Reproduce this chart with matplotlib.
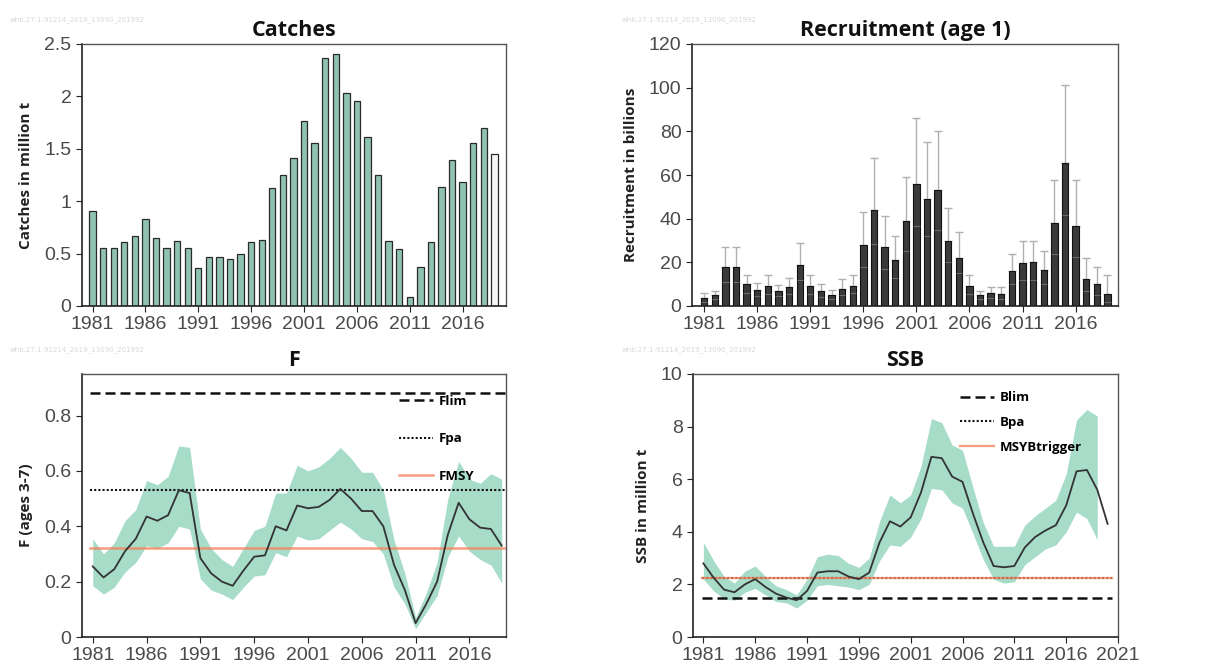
import matplotlib
matplotlib.use("Agg")
import matplotlib.pyplot as plt
from matplotlib import font_manager
import numpy as np

years = list(range(1981, 2020))
ssb_years = list(range(1981, 2021))
band_years = list(range(1981, 2020))

catches = [0.91, 0.55, 0.55, 0.61, 0.67, 0.83, 0.65, 0.55, 0.62, 0.55,
           0.36, 0.47, 0.47, 0.45, 0.50, 0.61, 0.63, 1.13, 1.25, 1.41,
           1.77, 1.56, 2.37, 2.40, 2.03, 1.96, 1.61, 1.25, 0.62, 0.54,
           0.09, 0.37, 0.61, 1.14, 1.39, 1.18, 1.56, 1.70, 1.45]

recruit = [3.5, 5, 18, 18, 10, 7.5, 9, 7, 8.5, 19,
           9, 7, 5, 8, 9, 28, 44, 27, 21, 39,
           56, 49, 53, 30, 22, 9, 5, 6, 5.5, 16,
           19.5, 20, 16.5, 38, 65.5, 36.5, 12.5, 10, 5.5]
recruit_hi = [6, 7, 27, 27, 14, 10.5, 14, 9.5, 13, 29,
              14, 10, 7.5, 12.5, 14, 43, 68, 41, 32, 59,
              86, 75, 80, 45, 34, 14, 7, 8.5, 8.5, 24,
              30, 30, 25, 57.5, 101, 57.5, 22, 18, 14]
recruit_lo = [2, 3, 11, 11, 6, 4.5, 5.5, 4.5, 5.5, 12,
              5.5, 4, 3, 5, 6, 18, 28.5, 17, 13, 25,
              36.5, 32, 35, 20, 15, 5.5, 3, 3.5, 3, 10,
              12, 12, 10, 24, 41.5, 22.5, 7, 5, 2]

F = [0.255, 0.215, 0.245, 0.31, 0.355, 0.435, 0.42, 0.44, 0.53, 0.52,
     0.285, 0.23, 0.20, 0.185, 0.24, 0.29, 0.295, 0.40, 0.385, 0.475,
     0.465, 0.47, 0.495, 0.535, 0.50, 0.455, 0.455, 0.40, 0.26, 0.17,
     0.05, 0.12, 0.20, 0.37, 0.485, 0.425, 0.395, 0.39, 0.33]
F_hi = [0.355, 0.30, 0.34, 0.42, 0.46, 0.565, 0.55, 0.58, 0.69, 0.685,
        0.39, 0.32, 0.28, 0.255, 0.32, 0.385, 0.40, 0.52, 0.52, 0.62,
        0.60, 0.615, 0.645, 0.685, 0.645, 0.595, 0.595, 0.53, 0.35, 0.23,
        0.07, 0.16, 0.27, 0.50, 0.635, 0.57, 0.555, 0.59, 0.57]
F_lo = [0.185, 0.155, 0.18, 0.235, 0.27, 0.33, 0.32, 0.34, 0.40, 0.39,
        0.21, 0.17, 0.155, 0.135, 0.18, 0.22, 0.225, 0.305, 0.29, 0.365,
        0.35, 0.355, 0.385, 0.415, 0.39, 0.355, 0.345, 0.30, 0.18, 0.12,
        0.03, 0.09, 0.15, 0.29, 0.365, 0.31, 0.28, 0.26, 0.195]

ssb = [2.8, 2.25, 1.8, 1.7, 2.0, 2.2, 1.9, 1.65, 1.5, 1.4,
       1.75, 2.45, 2.5, 2.5, 2.3, 2.2, 2.45, 3.6, 4.4, 4.2,
       4.55, 5.5, 6.85, 6.8, 6.1, 5.9, 4.7, 3.6, 2.7, 2.65,
       2.7, 3.4, 3.8, 4.05, 4.25, 5.0, 6.3, 6.35, 5.6, 4.3]
ssb_hi = [3.6, 2.9, 2.3, 2.05, 2.5, 2.7, 2.3, 1.95, 1.8, 1.6,
          2.2, 3.05, 3.15, 3.1, 2.8, 2.65, 3.0, 4.4, 5.4, 5.1,
          5.4, 6.5, 8.3, 8.15, 7.3, 7.1, 5.7, 4.35, 3.45, 3.45,
          3.45, 4.25, 4.6, 4.9, 5.2, 6.2, 8.25, 8.65, 8.4]
ssb_lo = [2.2, 1.75, 1.45, 1.4, 1.7, 1.85, 1.6, 1.35, 1.3, 1.1,
          1.4, 1.95, 2.0, 1.95, 1.9, 1.8, 2.0, 2.9, 3.5, 3.45,
          3.8, 4.5, 5.65, 5.6, 5.1, 4.9, 3.95, 2.95, 2.2, 2.05,
          2.1, 2.75, 3.05, 3.35, 3.5, 4.0, 4.75, 4.5, 3.7]

Flim, Fpa, Fmsy = 0.88, 0.53, 0.32
Blim, Bpa, MSYBtrigger = 1.5, 2.25, 2.25

xtick_years = [1981, 1986, 1991, 1996, 2001, 2006, 2011, 2016]
ssb_xticks = [1981, 1986, 1991, 1996, 2001, 2006, 2011, 2016, 2021]

available = {f.name for f in font_manager.fontManager.ttflist}
TICKFONT = [f for f in ['Liberation Sans Narrow', 'DejaVu Sans Condensed', 'Liberation Sans']
            if f in available] + ['DejaVu Sans']
BOLDFONT = ['Open Sans', 'DejaVu Sans']
TICKCOL = '#4a4a4a'
GREEN = '#8fc3b0'
BAND = '#a6dcc8'
ORANGE = '#f4845f'
WM = 'whb.27.1-91214_2019_13090_201992'

W, H = 1215, 666
fig = plt.figure(figsize=(W / 100, H / 100), dpi=100)


def ax_at(l, t, r, b):
    return fig.add_axes([l / W, 1 - b / H, (r - l) / W, (b - t) / H])


def style(ax, title, ylabel, xt):
    for s in ['left', 'bottom']:
        ax.spines[s].set_color('#222222')
        ax.spines[s].set_linewidth(1.2)
    for s in ['top', 'right']:
        ax.spines[s].set_color('#555555')
        ax.spines[s].set_linewidth(1.0)
    ax.set_xticks(xt)
    ax.set_xticklabels([str(y) for y in xt])
    ax.tick_params(axis='both', direction='out', length=4, width=0.8,
                   colors='#222222', labelcolor=TICKCOL, labelsize=14)
    for lab in ax.get_xticklabels() + ax.get_yticklabels():
        lab.set_family(TICKFONT)
    ax.set_ylabel(ylabel, family=BOLDFONT, fontweight='bold', fontsize=11,
                  color='#222222', labelpad=8)
    ax.set_title(title, family=BOLDFONT, fontweight='bold', fontsize=15.5,
                 color='#111111', pad=6)


# Catches
ax1 = ax_at(82, 44, 506, 306)
cols = [GREEN] * (len(years) - 1) + ['#f4f7f6']
ax1.bar(years, catches, width=0.6, color=cols, edgecolor='#2a2a2a', linewidth=0.9)
ax1.set_xlim(1980, 2020.1)
ax1.set_ylim(0, 2.5)
ax1.set_yticks([0, 0.5, 1, 1.5, 2, 2.5])
ax1.set_yticklabels(['0', '0.5', '1', '1.5', '2', '2.5'])
style(ax1, 'Catches', 'Catches in million t', xtick_years)

# Recruitment
ax2 = ax_at(692, 44, 1118, 306)
rv = np.array(recruit)
ax2.errorbar(years, rv, yerr=[np.zeros_like(rv), np.array(recruit_hi) - rv],
             fmt='none', ecolor='#b0b0b0', elinewidth=1.0, capsize=3, capthick=1.0, zorder=1)
ax2.bar(years, recruit, width=0.6, color='#3a3a3a', edgecolor='#111111', linewidth=0.8, zorder=2)
ax2.hlines(recruit_lo, np.array(years) - 0.3, np.array(years) + 0.3,
           color='#6a6a6a', linewidth=0.8, zorder=3)
ax2.set_xlim(1979.85, 2020)
ax2.set_ylim(0, 120)
ax2.set_yticks(range(0, 121, 20))
style(ax2, 'Recruitment (age 1)', 'Recruitment in billions', xtick_years)

# F
ax3 = ax_at(82, 374, 506, 637)
ax3.fill_between(years, F_lo, F_hi, color=BAND, linewidth=0, zorder=1)
ax3.plot(years, F, color='#333333', linewidth=1.3, zorder=3)
ax3.axhline(Flim, xmin=0.02, xmax=1, color='#111111', linestyle=(0, (4, 2)), linewidth=1.8, zorder=2, label='Flim')
ax3.axhline(Fpa, xmin=0.02, xmax=1, color='#111111', linestyle=(0, (1, 1)), linewidth=1.5, zorder=2, label='Fpa')
ax3.axhline(Fmsy, xmin=0.02, xmax=1, color=ORANGE, linewidth=1.8, alpha=0.8, zorder=2, label='FMSY')
ax3.set_xlim(1980, 2019.4)
ax3.set_ylim(0, 0.95)
ax3.set_yticks([0, 0.2, 0.4, 0.6, 0.8])
ax3.set_yticklabels(['0', '0.2', '0.4', '0.6', '0.8'])
style(ax3, 'F', 'F (ages 3-7)', xtick_years)
ax3.legend(loc='upper left', bbox_to_anchor=(0.72, 0.965), frameon=False,
           handlelength=2.6, labelspacing=1.85, handletextpad=0.4,
           prop={'family': BOLDFONT, 'weight': 'bold', 'size': 9.5})

# SSB
ax4 = ax_at(693, 374, 1118, 637)
ax4.fill_between(band_years, ssb_lo, ssb_hi, color=BAND, linewidth=0, zorder=1)
ax4.plot(ssb_years, ssb, color='#333333', linewidth=1.3, zorder=3)
ax4.axhline(Blim, xmin=0.02, xmax=0.985, color='#111111', linestyle=(0, (4, 2)), linewidth=1.8, zorder=2, label='Blim')
ax4.axhline(Bpa, xmin=0.02, xmax=0.985, color='#111111', linestyle=(0, (1, 1)), linewidth=1.5, zorder=2, label='Bpa')
ax4.axhline(MSYBtrigger, xmin=0.02, xmax=0.985, color=ORANGE, linewidth=1.6, alpha=0.8, zorder=2, label='MSYBtrigger')
ax4.set_xlim(1980, 2021)
ax4.set_ylim(0, 10)
ax4.set_yticks(range(0, 11, 2))
style(ax4, 'SSB', 'SSB in million t', ssb_xticks)
ax4.legend(loc='upper left', bbox_to_anchor=(0.6, 0.98), frameon=False,
           handlelength=2.6, labelspacing=0.9, handletextpad=0.4,
           prop={'family': BOLDFONT, 'weight': 'bold', 'size': 9.5})

# watermarks
for (x, y) in [(10, 20), (622, 20), (10, 350), (622, 350)]:
    fig.text(x / W, 1 - y / H, WM, fontsize=5, color='#d8d8d8', va='center', ha='left')

fig.savefig('out.png', dpi=100, facecolor='white')
